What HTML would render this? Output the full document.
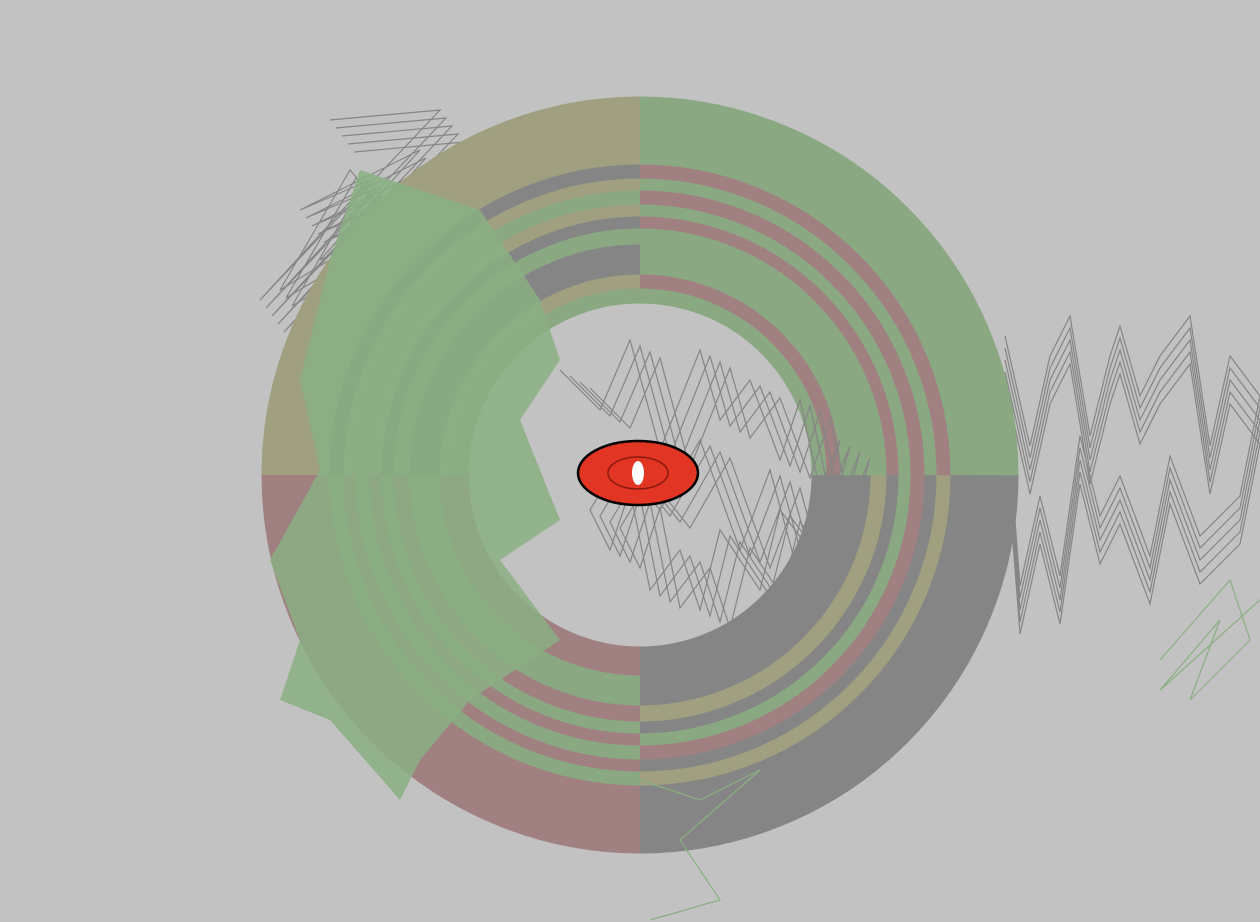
<!DOCTYPE html>
<html><head><meta charset="utf-8">
<style>
html,body{margin:0;padding:0;background:#c2c2c2;width:1260px;height:922px;overflow:hidden}
svg{display:block}
</style></head>
<body>
<svg id="art" width="1260" height="922" viewBox="0 0 1260 922" xmlns="http://www.w3.org/2000/svg">
<rect width="1260" height="922" fill="#c2c2c2"/>
<g id="zig"></g>
<g id="rings"></g>
<g id="green"></g>
<g id="zig2"></g>
<g>
<ellipse cx="638" cy="473" rx="60" ry="32" fill="#e23524" stroke="#000" stroke-width="2.5"/>
<ellipse cx="638" cy="473" rx="30" ry="16" fill="none" stroke="#8a1a10" stroke-width="1.5"/>
<ellipse cx="638" cy="473" rx="6" ry="12" fill="#fff"/>
</g>
</svg>
<script>
const ringRadii = [344, 303, 290, 277, 264, 252, 238, 215, 193, 179];
const ringWidths = [69, 15, 13, 15, 13, 13, 17, 31, 15, 15];
const ringTR = ["#8aa882","#a08080","#8aa882","#a08080","#8aa882","#a08080","#8aa882","#8aa882","#a08080","#8aa882"];
const ringBR = ["#858585","#a0a080","#858585","#a08080","#8aa882","#858585","#a0a080","#858585","#858585","#858585"];
const ringBL = ["#a08080","#8aa882","#a08080","#8aa882","#a08080","#8aa882","#a08080","#8aa882","#a08080","#a08080"];
const ringTL = ["#a0a080","#858585","#a0a080","#8aa882","#a0a080","#858585","#8aa882","#858585","#a0a080","#8aa882"];
const rightZigX = [1005,1030,1050,1070,1090,1110,1120,1140,1160,1190,1210,1230,1260,1240,1200,1170,1150,1120,1100,1080,1060,1040,1020,1010];
const rightZigY = [360,470,380,340,460,380,350,420,380,340,470,380,420,520,560,480,580,500,540,460,600,520,610,480];
const centerZigX = [560,600,630,660,700,720,750,780,800,820,840,810,780,760,720,700,680,650,630,610,590,620,660,700,740,770,800];
const centerZigY = [380,420,350,460,360,430,390,470,410,500,450,560,520,600,540,620,560,600,500,560,520,470,520,450,560,480,590];
const leftZigX = [330,440,260,370,300,420,320,380,280,350,410];
const leftZigY = [120,110,300,180,210,150,260,230,290,170,240];
const greenPolyX = [360,480,540,560,520,560,500,560,470,420,400,330,280,300,270,320,300,330];
const greenPolyY = [170,210,300,360,420,520,560,640,700,760,800,720,700,640,560,470,380,260];

const cx=640, cy=475, NS="http://www.w3.org/2000/svg";
function arc(r,a0,a1){
  const x0=cx+r*Math.cos(a0), y0=cy+r*Math.sin(a0), x1=cx+r*Math.cos(a1), y1=cy+r*Math.sin(a1);
  return `M${x0},${y0} A${r},${r} 0 0 1 ${x1},${y1}`;
}
const rg=document.getElementById('rings');
const quads=[ringBR,ringBL,ringTL,ringTR];
for(let i=0;i<ringRadii.length;i++){
  for(let q=0;q<4;q++){
    const p=document.createElementNS(NS,'path');
    p.setAttribute('d',arc(ringRadii[i],q*Math.PI/2,(q+1)*Math.PI/2+0.001));
    p.setAttribute('fill','none');
    p.setAttribute('stroke',quads[q][i]);
    p.setAttribute('stroke-width',ringWidths[i]);
    
    
    rg.appendChild(p);
  }
}
function poly(g,xs,ys,color,w,fill){
  const p=document.createElementNS(NS,fill?'polygon':'polyline');
  p.setAttribute('points',xs.map((x,i)=>x+','+ys[i]).join(' '));
  p.setAttribute('fill',fill||'none');
  p.setAttribute('stroke',color);
  p.setAttribute('stroke-width',w);
  
  
  g.appendChild(p);
}
const zg=document.getElementById('zig');
for(let k=0;k<5;k++){
  poly(zg,rightZigX,rightZigY.map(y=>y+k*12-24),'#858585',1.2);
  poly(zg,leftZigX.map(x=>x+k*6),leftZigY.map(y=>y+k*8),'#858585',1.2);
}
const g2=document.getElementById('zig2');
for(let k=0;k<4;k++){
  poly(g2,centerZigX.map(x=>x+k*10),centerZigY.map(y=>y+k*6-10),'#858585',1.2);
}
const gg=document.getElementById('green');
const gp=document.createElementNS(NS,'polygon');
gp.setAttribute('points',greenPolyX.map((x,i)=>x+','+greenPolyY[i]).join(' '));
gp.setAttribute('fill','#8aaf82');
gp.setAttribute('opacity','0.85');


gg.appendChild(gp);
poly(gg,[1160,1230,1250,1190,1220,1160,1260],[660,580,640,700,620,690,600],'#8aaf82',1.2);
poly(gg,[640,700,760,680,720,650],[780,800,770,840,900,920],'#8aaf82',1.2);
</script>
</body></html>
